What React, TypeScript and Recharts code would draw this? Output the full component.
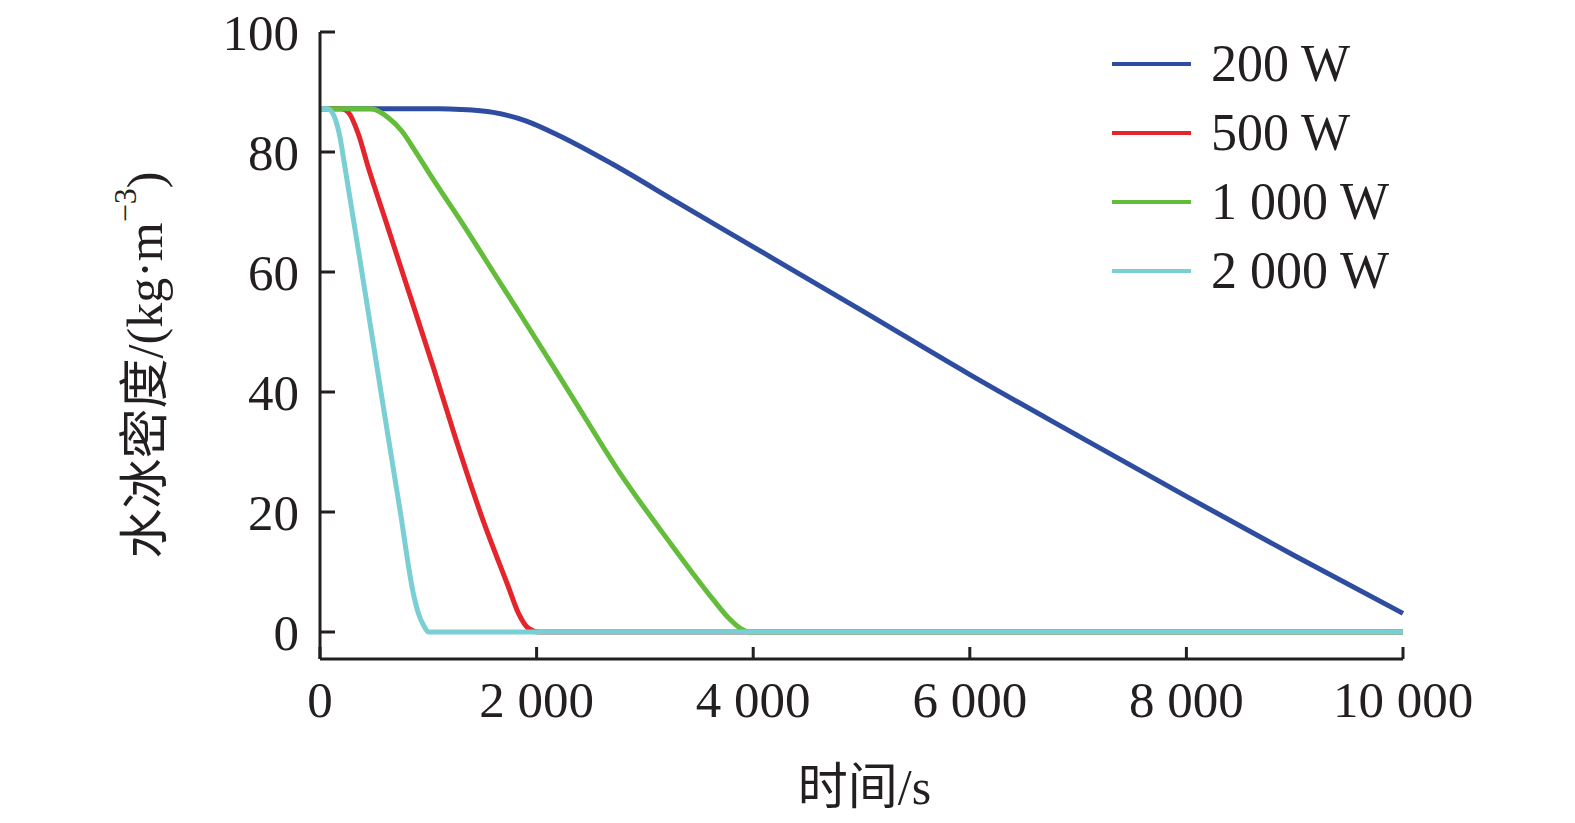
import { LineChart, Line, XAxis, YAxis, Legend, Label } from 'recharts';

// time (s) / ice density (kg/m^3)
const t200 = [0, 1100, 1300, 1600, 1900, 2200, 2700, 3300, 4000, 5000, 6000, 7000, 8000, 9000, 10000];
const rho200 = [87.2, 87.2, 87.1, 86.6, 85.2, 82.8, 78.0, 71.6, 64.2, 53.6, 42.9, 32.7, 22.6, 12.7, 3.1];

const t500 = [0, 200, 262, 354, 446, 600, 800, 1047, 1248, 1494, 1740, 1833, 1925, 2017, 10000];
const rho500 = [87.2, 87.2, 86.6, 83.0, 77.4, 68.9, 57.8, 44.1, 32.5, 19.2, 7.5, 3.1, 0.6, 0, 0];

const t1000 = [0, 470, 631, 755, 878, 1032, 1340, 1600, 1848, 2311, 2773, 3235, 3450, 3635, 3780, 3882, 3960, 10000];
const rho1000 = [87.2, 87.2, 85.7, 83.5, 80.2, 75.8, 67.4, 60.0, 53.0, 39.7, 26.4, 14.8, 9.6, 5.3, 2.2, 0.6, 0, 0];

const t2000 = [0, 70, 130, 185, 231, 400, 585, 739, 862, 909, 960, 1001, 10000];
const rho2000 = [87.2, 87.2, 86.0, 82.4, 77.4, 58.5, 37.5, 20.3, 6.4, 3.1, 1.0, 0, 0];

const xTicks = [0, 2000, 4000, 6000, 8000, 10000];
const yTicks = [0, 20, 40, 60, 80, 100];

const series = [
  { name: '200 W', t: t200, v: rho200, color: '#2f4da0' },
  { name: '500 W', t: t500, v: rho500, color: '#e4252b' },
  { name: '1 000 W', t: t1000, v: rho1000, color: '#63bd3b' },
  { name: '2 000 W', t: t2000, v: rho2000, color: '#79cfd3' },
];

const FONT = "'Liberation Serif', 'Times New Roman', 'Noto Sans CJK SC', serif";
const INK = '#231f20';

function spaced(v: number) {
  return String(v).replace(/\B(?=(\d{3})+(?!\d))/g, ' ');
}

function renderYLabel() {
  const cx = 145;
  const cy = 365;
  return (
    <text
      x={cx}
      y={cy}
      transform={`rotate(-90, ${cx}, ${cy})`}
      textAnchor="middle"
      dominantBaseline="central"
      fill={INK}
      fontFamily={FONT}
      fontSize={50}
    >
      水冰密度/(kg·m<tspan dy={-20} fontSize={32}>−3</tspan>
      <tspan dy={20}>)</tspan>
    </text>
  );
}

function renderXLabel(props: any) {
  const vb = props.viewBox || {};
  const cx = (vb.x ?? 320) + (vb.width ?? 1082) / 2;
  return (
    <text x={cx + 3} y={787} textAnchor="middle" dominantBaseline="central" fill={INK} fontFamily={FONT} fontSize={50}>
      时间/s
    </text>
  );
}

function renderLegend() {
  return (
    <div style={{ fontFamily: FONT, fontSize: 52, color: INK }}>
      {series.map((s) => (
        <div key={s.name} style={{ display: 'flex', alignItems: 'center', height: 69 }}>
          <span style={{ display: 'inline-block', width: 79, height: 4, background: s.color, marginRight: 20 }} />
          <span style={{ lineHeight: '69px', whiteSpace: 'nowrap' }}>{s.name}</span>
        </div>
      ))}
    </div>
  );
}

export default function App() {
  return (
    <div style={{ width: 1575, height: 823, background: '#fff' }}>
      <style>{'body{margin:0}'}</style>
      <LineChart width={1575} height={823} margin={{ top: 32, right: 172, left: 120, bottom: 44 }}>
        <XAxis
          type="number"
          dataKey="t"
          domain={[0, 10000]}
          ticks={xTicks}
          tickFormatter={spaced}
          height={120}
          tickSize={-12}
          tickMargin={34}
          axisLine={{ stroke: INK, strokeWidth: 3 }}
          tickLine={{ stroke: INK, strokeWidth: 3 }}
          tick={{ fill: INK, fontSize: 51, fontFamily: FONT }}
          allowDuplicatedCategory={false}
        >
          <Label content={renderXLabel} />
        </XAxis>
        <YAxis
          type="number"
          domain={[-4.5, 100]}
          ticks={yTicks}
          width={200}
          tickSize={-15}
          tickMargin={36}
          axisLine={{ stroke: INK, strokeWidth: 3 }}
          tickLine={{ stroke: INK, strokeWidth: 3 }}
          tick={{ fill: INK, fontSize: 51, fontFamily: FONT }}
        >
          <Label content={renderYLabel} />
        </YAxis>
        <Legend
          layout="vertical"
          verticalAlign="middle"
          align="center"
          content={renderLegend}
          wrapperStyle={{ left: 1112, top: 29, width: 320 }}
        />
        {series.map((s) => (
          <Line
            key={s.name}
            name={s.name}
            data={s.t.map((t, i) => ({ t, v: s.v[i] }))}
            dataKey="v"
            type="monotone"
            stroke={s.color}
            strokeWidth={5}
            dot={false}
            activeDot={false}
            isAnimationActive={false}
          />
        ))}
      </LineChart>
    </div>
  );
}
